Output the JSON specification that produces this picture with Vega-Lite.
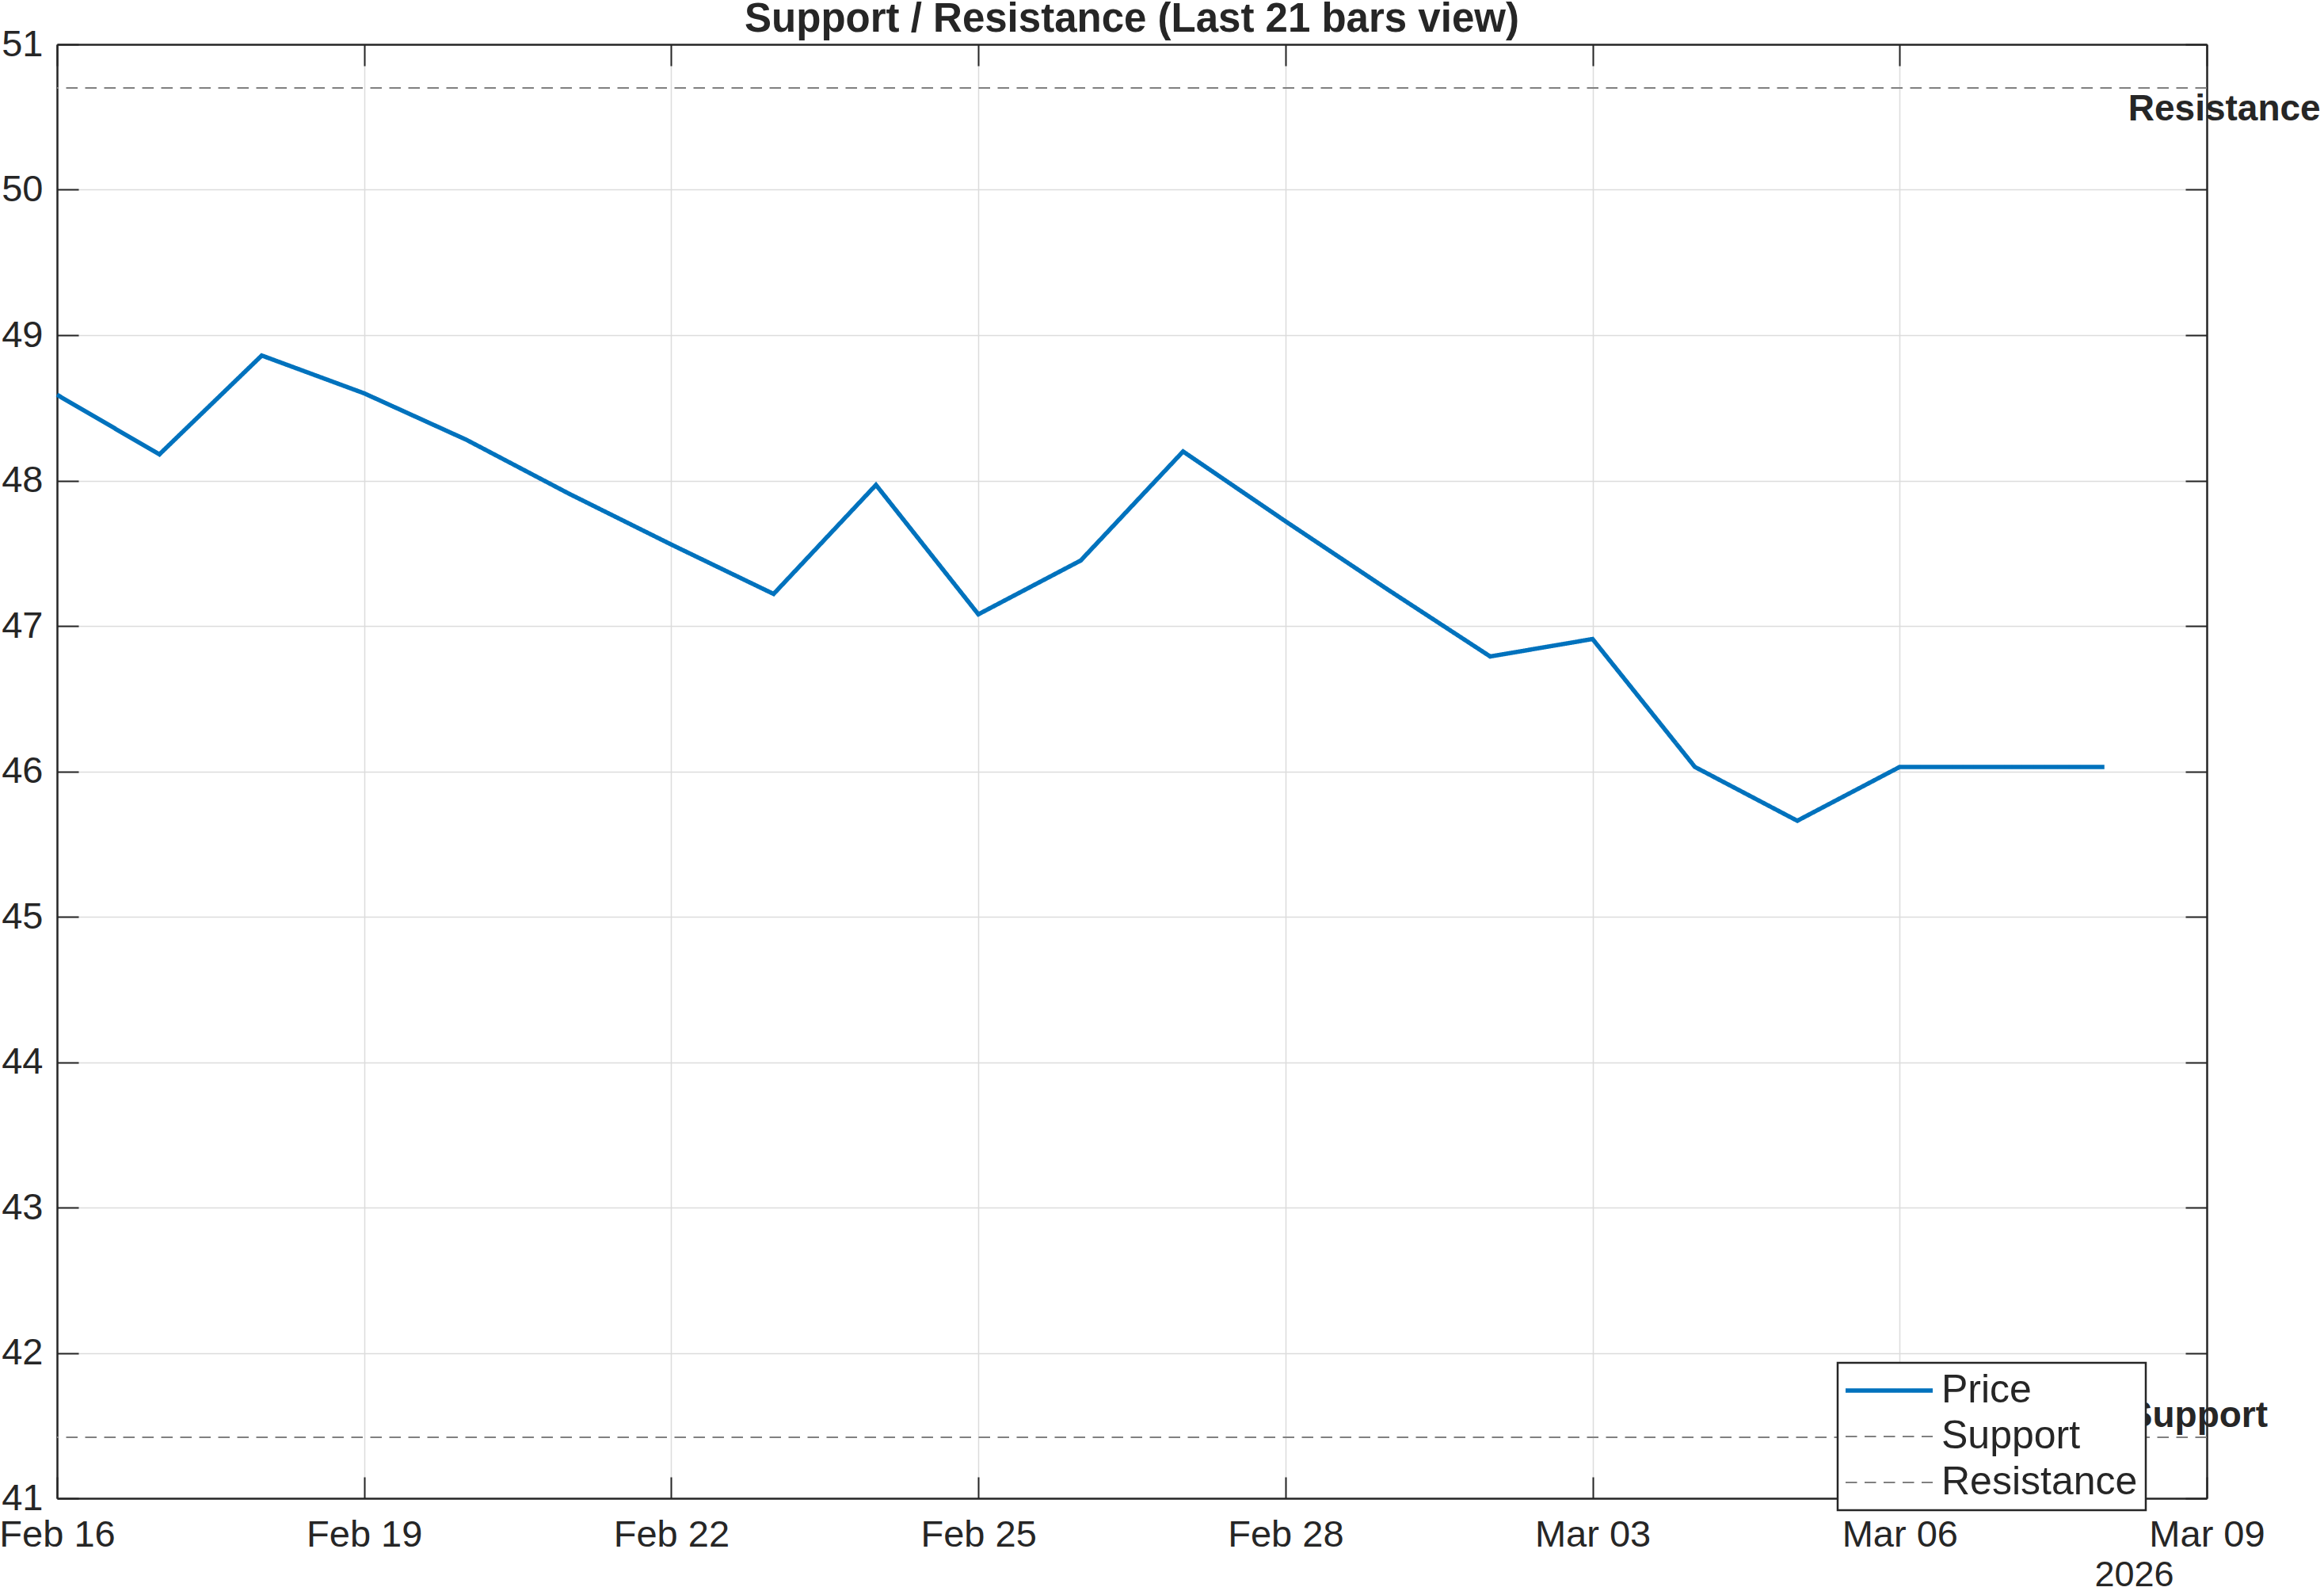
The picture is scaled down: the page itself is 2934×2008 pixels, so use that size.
{
  "$schema": "https://vega.github.io/schema/vega-lite/v6.json",
  "autosize": {"type": "none"},
  "padding": {"left": 72, "top": 56, "right": 148, "bottom": 117},
  "width": 2714,
  "height": 1835,
  "background": "white",
  "config": {
    "font": "Liberation Sans",
    "view": {"stroke": null},
    "axis": {
      "domain": true,
      "domainColor": "#262626",
      "domainWidth": 2.5,
      "tickColor": "#262626",
      "tickWidth": 2,
      "tickSize": -27,
      "labelColor": "#262626",
      "labelFontSize": 47,
      "labelFlush": false,
      "labelOverlap": false,
      "labelBound": false,
      "gridColor": "#dcdcdc",
      "gridWidth": 1.5
    }
  },
  "title": {
    "text": "Support / Resistance (Last 21 bars view)",
    "fontSize": 51,
    "fontWeight": "bold",
    "color": "#262626",
    "anchor": "middle",
    "offset": -19
  },
  "datasets": {
    "price": [
      {"date": "2026-02-16", "price": 48.59},
      {"date": "2026-02-17", "price": 48.18},
      {"date": "2026-02-18", "price": 48.86},
      {"date": "2026-02-19", "price": 48.60},
      {"date": "2026-02-20", "price": 48.28},
      {"date": "2026-02-21", "price": 47.91},
      {"date": "2026-02-22", "price": 47.56},
      {"date": "2026-02-23", "price": 47.22},
      {"date": "2026-02-24", "price": 47.97},
      {"date": "2026-02-25", "price": 47.08},
      {"date": "2026-02-26", "price": 47.45},
      {"date": "2026-02-27", "price": 48.20},
      {"date": "2026-02-28", "price": 47.72},
      {"date": "2026-03-01", "price": 47.25},
      {"date": "2026-03-02", "price": 46.79},
      {"date": "2026-03-03", "price": 46.91},
      {"date": "2026-03-04", "price": 46.03},
      {"date": "2026-03-05", "price": 45.66},
      {"date": "2026-03-06", "price": 46.03},
      {"date": "2026-03-07", "price": 46.03},
      {"date": "2026-03-08", "price": 46.03}
    ],
    "levels": [
      {"series": "Support", "level": 41.42},
      {"series": "Resistance", "level": 50.70}
    ]
  },
  "layer": [
    {
      "data": {"name": "levels"},
      "mark": {"type": "rule", "strokeWidth": 2},
      "encoding": {
        "y": {
          "field": "level",
          "type": "quantitative",
          "scale": {"domain": [41, 51], "nice": false, "zero": false},
          "axis": {"orient": "right", "labels": false, "grid": false, "title": null, "values": [41, 42, 43, 44, 45, 46, 47, 48, 49, 50, 51]}
        },
        "color": {"field": "series", "type": "nominal", "title": null},
        "strokeDash": {"field": "series", "type": "nominal", "title": null}
      }
    },
    {
      "data": {"name": "price"},
      "mark": {"type": "line", "strokeWidth": 5.5},
      "encoding": {
        "x": {
          "field": "date",
          "type": "temporal",
          "scale": {
            "type": "utc",
            "domain": [
              {"year": 2026, "month": 2, "date": 16, "utc": true},
              {"year": 2026, "month": 3, "date": 9, "utc": true}
            ]
          },
          "axis": {
            "orient": "bottom",
            "grid": true,
            "format": "%b %d",
            "labelPadding": 50,
            "values": [
              {"year": 2026, "month": 2, "date": 16, "utc": true},
              {"year": 2026, "month": 2, "date": 19, "utc": true},
              {"year": 2026, "month": 2, "date": 22, "utc": true},
              {"year": 2026, "month": 2, "date": 25, "utc": true},
              {"year": 2026, "month": 2, "date": 28, "utc": true},
              {"year": 2026, "month": 3, "date": 3, "utc": true},
              {"year": 2026, "month": 3, "date": 6, "utc": true},
              {"year": 2026, "month": 3, "date": 9, "utc": true}
            ],
            "title": "2026",
            "titleFontSize": 45,
            "titleFontWeight": "normal",
            "titleColor": "#262626",
            "titleX": 2622,
            "titleY": 110,
            "titleAlign": "center",
            "titleBaseline": "alphabetic"
          }
        },
        "y": {
          "field": "price",
          "type": "quantitative",
          "axis": {
            "orient": "left",
            "grid": true,
            "title": null,
            "labelPadding": 45,
            "values": [41, 42, 43, 44, 45, 46, 47, 48, 49, 50, 51]
          }
        },
        "color": {
          "datum": "Price",
          "type": "nominal",
          "title": null,
          "scale": {"domain": ["Price", "Support", "Resistance"], "range": ["#0072BD", "#808080", "#808080"]},
          "legend": {
            "orient": "none",
            "legendX": 2248,
            "legendY": 1664,
            "title": null,
            "symbolType": "M-2.2,0H2.2",
            "symbolSize": 2500,
            "symbolOffset": 30,
            "labelOffset": 41,
            "labelFontSize": 50,
            "labelLimit": 0,
            "labelColor": "#262626",
            "strokeColor": "#262626",
            "fillColor": "white",
            "padding": 10,
            "rowPadding": 8,
            "encode": {
              "legend": {"update": {"strokeWidth": {"value": 2.5}}},
              "symbols": {"update": {"strokeWidth": {"signal": "datum.value === 'Price' ? 5.5 : 2"}}}
            }
          }
        },
        "strokeDash": {
          "datum": "Price",
          "type": "nominal",
          "title": null,
          "scale": {"domain": ["Price", "Support", "Resistance"], "range": [[1, 0], [14.5, 9.5], [14.5, 9.5]]}
        }
      }
    },
    {
      "data": {"name": "levels"},
      "transform": [{"filter": "datum.series === 'Resistance'"}],
      "mark": {"type": "text", "fontSize": 46, "fontWeight": "bold", "color": "#262626", "align": "left", "baseline": "top", "dx": 30, "dy": 5},
      "encoding": {
        "x": {
          "datum": {"year": 2026, "month": 3, "date": 8, "utc": true},
          "type": "temporal",
          "axis": {
            "orient": "top",
            "labels": false,
            "grid": false,
            "title": null,
            "values": [
              {"year": 2026, "month": 2, "date": 16, "utc": true},
              {"year": 2026, "month": 2, "date": 19, "utc": true},
              {"year": 2026, "month": 2, "date": 22, "utc": true},
              {"year": 2026, "month": 2, "date": 25, "utc": true},
              {"year": 2026, "month": 2, "date": 28, "utc": true},
              {"year": 2026, "month": 3, "date": 3, "utc": true},
              {"year": 2026, "month": 3, "date": 6, "utc": true},
              {"year": 2026, "month": 3, "date": 9, "utc": true}
            ]
          }
        },
        "y": {"field": "level", "type": "quantitative", "axis": null},
        "text": {"field": "series"}
      }
    },
    {
      "data": {"name": "levels"},
      "transform": [{"filter": "datum.series === 'Support'"}],
      "mark": {"type": "text", "fontSize": 46, "fontWeight": "bold", "color": "#262626", "align": "left", "baseline": "bottom", "dx": 30, "dy": -3},
      "encoding": {
        "x": {"datum": {"year": 2026, "month": 3, "date": 8, "utc": true}, "type": "temporal", "axis": null},
        "y": {"field": "level", "type": "quantitative", "axis": null},
        "text": {"field": "series"}
      }
    }
  ],
  "resolve": {"axis": {"x": "independent", "y": "independent"}}
}
